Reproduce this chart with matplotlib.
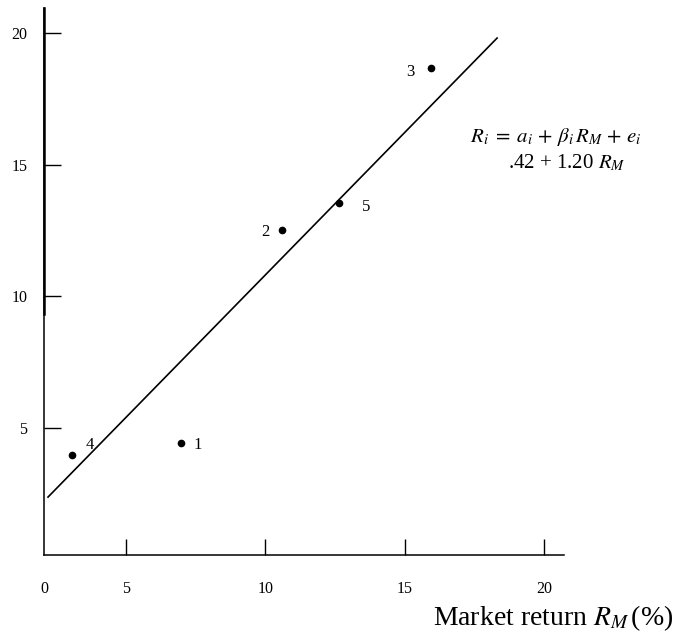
import matplotlib
matplotlib.use("Agg")
import matplotlib.pyplot as plt

plt.rcParams['font.family'] = ['Liberation Serif', 'DejaVu Serif']
plt.rcParams['mathtext.fontset'] = 'stix'

# stock return vs market return
market_return = [6.97, 10.6, 15.94, 3.06, 12.64]
stock_return = [4.43, 12.52, 18.67, 3.98, 13.55]
point_labels = ['1', '2', '3', '4', '5']
label_offsets = [(17, -2), (-17, -2), (-21, -4), (18, 10), (27, -4)]  # pixels

# fitted line end points
fit_x = [2.20, 18.31]
fit_y = [2.38, 19.81]

x_ticks = [5, 10, 15, 20]
y_ticks = [5, 10, 15, 20]

fig = plt.figure(figsize=(6.81, 6.37), dpi=100)
ax = fig.add_axes([0.0646, 0.1287, 0.7636, 0.8587])

ax.plot(fit_x, fit_y, color='black', lw=1.2)
ax.plot(market_return, stock_return, 'o', color='black', ms=4.5)

for x, y, lab, (dx, dy) in zip(market_return, stock_return, point_labels, label_offsets):
    ax.annotate(lab, (x, y), xytext=(dx * 0.72, dy * 0.72), textcoords='offset points',
                ha='center', va='center', fontsize=12)

ax.set_xlim(2.056, 20.71)
ax.set_ylim(0.18, 20.95)

# origin label "0" sits at the corner of the axes
ax.set_xticks([2.056] + x_ticks)
ax.set_xticklabels(['0'] + [str(t) for t in x_ticks])
ax.xaxis.get_major_ticks()[0].tick1line.set_visible(False)
ax.set_yticks(y_ticks)
ax.set_yticklabels([str(t) for t in y_ticks])

ax.tick_params(axis='x', direction='in', length=11.5, width=1.0, pad=19, labelsize=11.5)
ax.tick_params(axis='y', direction='in', length=12, width=1.0, pad=12, labelsize=11.5)

for s in ['top', 'right']:
    ax.spines[s].set_visible(False)
ax.spines['left'].set_linewidth(1.1)
ax.spines['bottom'].set_linewidth(1.1)
# upper part of the vertical axis is drawn heavier
ax.axvline(2.056, ymin=0.44, ymax=1.0, color='black', lw=1.8, clip_on=False)

fig.text(0.690, 0.785, r'$R_i\;=\;a_i\,+\,\beta_i\,R_M\,+\,e_i$', fontsize=15, va='center')
fig.text(0.746, 0.744, r'.42 + 1.20 $R_M$', fontsize=15, va='center')

fig.text(0.812, 0.030, r'Market return $R_M\,$(%)', fontsize=20, ha='center', va='center')

fig.savefig('out.png', dpi=100)
